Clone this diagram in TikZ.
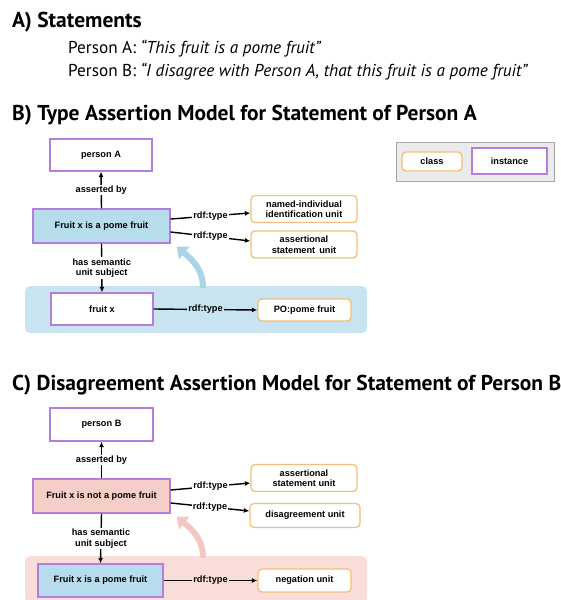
\documentclass[tikz,border=0pt]{standalone}
\usepackage{fontspec}
\setmainfont{PT Sans}
\newfontfamily\boxfont{Liberation Sans}
\usetikzlibrary{arrows.meta}

\definecolor{instpurple}{HTML}{B57EDC}
\definecolor{clsorange}{HTML}{F4BF76}
\definecolor{nodeblue}{HTML}{B7DCEC}
\definecolor{bgblue}{HTML}{C8E4F0}
\definecolor{nodepink}{HTML}{F6CEC8}
\definecolor{bgpink}{HTML}{F8DDD9}
\definecolor{liftblue}{HTML}{ABD4E7}
\definecolor{liftpink}{HTML}{F4C8C2}
\definecolor{legendgray}{HTML}{EBEBEB}

\begin{document}
\begin{tikzpicture}[x=1pt,y=-1pt,
  head/.style={anchor=west, inner sep=0pt, font=\fontsize{21.5}{24}\selectfont\bfseries},
  stmt/.style={anchor=west, inner sep=0pt, font=\fontsize{17.2}{20}\selectfont},
  inst/.style={draw=instpurple, line width=1.3pt, fill=white, align=center, inner sep=0pt,
    font=\boxfont\bfseries\fontsize{9.2}{10.5}\selectfont},
  cls/.style={draw=clsorange, line width=1.3pt, rounded corners=4pt, fill=white, align=center,
    inner sep=0pt, font=\boxfont\bfseries\fontsize{9.2}{10.5}\selectfont},
  bg/.style={rounded corners=5pt, inner sep=0pt},
  rel/.style={-{Latex[length=5.5pt,width=5pt]}, line width=1.4pt},
  lbl/.style={fill=white, inner sep=1pt, align=center,
    font=\boxfont\bfseries\fontsize{9.2}{10.5}\selectfont},
  lift/.style={line width=6pt, -{Triangle[length=10pt,width=16pt]}}
]
\useasboundingbox (0,0) rectangle (561,600);

% A) statements
\node[head] (hA) at (12,22) {A) Statements};
\node[stmt] (sa) at (68,49) {Person A: \textit{“This fruit is a pome fruit”}};
\node[stmt] (sb) at (68,72) {Person B: \textit{“I disagree with Person A, that this fruit is a pome fruit”}};

% B) type assertion
\node[head] (hB) at (12,115) {B) Type Assertion Model for Statement of Person A};
\node[bg, fill=bgblue, minimum width=342, minimum height=47] (bgB) at (196,309.5) {};
\node[inst, minimum width=102, minimum height=32] (pA) at (101,155) {person A};
\node[inst, fill=nodeblue, minimum width=137, minimum height=34] (sA) at (101.5,226) {Fruit x is a pome fruit};
\node[cls, minimum width=106, minimum height=27] (niu) at (304,209) {named-individual\\identification unit};
\node[cls, minimum width=106, minimum height=27] (asuA) at (304,244.5) {assertional\\statement\, unit};
\node[inst, minimum width=102, minimum height=32] (fx) at (102,309) {fruit x};
\node[cls, minimum width=93, minimum height=22] (po) at (304.5,310) {PO:pome fruit};

\draw[rel] (sA.north) -- node[lbl] {asserted by} (pA.south);
\draw[rel] ([yshift=7]sA.east) -- node[lbl] {rdf:type} ([yshift=-4]niu.west);
\draw[rel] ([yshift=-6]sA.east) -- node[lbl] {rdf:type} ([yshift=3.5]asuA.west);
\draw[rel] (sA.south) -- node[lbl] {has semantic\\unit subject} (fx.north);
\draw[rel] (fx.east) -- node[lbl, fill=bgblue] {rdf:type} (po.west);
\draw[lift, liftblue] ([xshift=7,yshift=-2]bgB.north) to[out=90, in=-40] ([xshift=6,yshift=-3]sA.south east);

% legend
\node[draw=gray!70, fill=legendgray, line width=0.8pt, minimum width=158, minimum height=39, inner sep=0pt] (leg) at (475,161.5) {};
\node[cls, minimum width=60, minimum height=19] (lc) at (432,161.5) {class};
\node[inst, minimum width=75, minimum height=26] (li) at (509.5,161) {instance};

% C) disagreement
\node[head] (hC) at (12,385) {C) Disagreement Assertion Model for Statement of Person B};
\node[bg, fill=bgpink, minimum width=342, minimum height=47] (bgC) at (196,579.5) {};
\node[inst, minimum width=103, minimum height=33] (pB) at (101.5,424.5) {person B};
\node[inst, fill=nodepink, minimum width=137, minimum height=34] (sB) at (101.5,496) {Fruit x is not a pome fruit};
\node[cls, minimum width=106, minimum height=27] (asuB) at (304,478) {assertional\\statement unit};
\node[cls, minimum width=110, minimum height=24] (dis) at (305,515.5) {disagreement unit};
\node[inst, fill=nodeblue, minimum width=125, minimum height=33] (fxB) at (100.5,580.5) {Fruit x is a pome fruit};
\node[cls, minimum width=93, minimum height=23] (neg) at (304.5,580.5) {negation unit};

\draw[rel] (sB.north) -- node[lbl] {asserted by} (pB.south);
\draw[rel] ([yshift=6]sB.east) -- node[lbl] {rdf:type} ([yshift=-5]asuB.west);
\draw[rel] ([yshift=-7]sB.east) -- node[lbl] {rdf:type} ([yshift=4.5]dis.west);
\draw[rel] (sB.south) -- node[lbl] {has semantic\\unit subject} (fxB.north);
\draw[rel] (fxB.east) -- node[lbl, fill=bgpink] {rdf:type} (neg.west);
\draw[lift, liftpink] ([xshift=7,yshift=-2]bgC.north) to[out=90, in=-40] ([xshift=6,yshift=-3]sB.south east);
\end{tikzpicture}
\end{document}
